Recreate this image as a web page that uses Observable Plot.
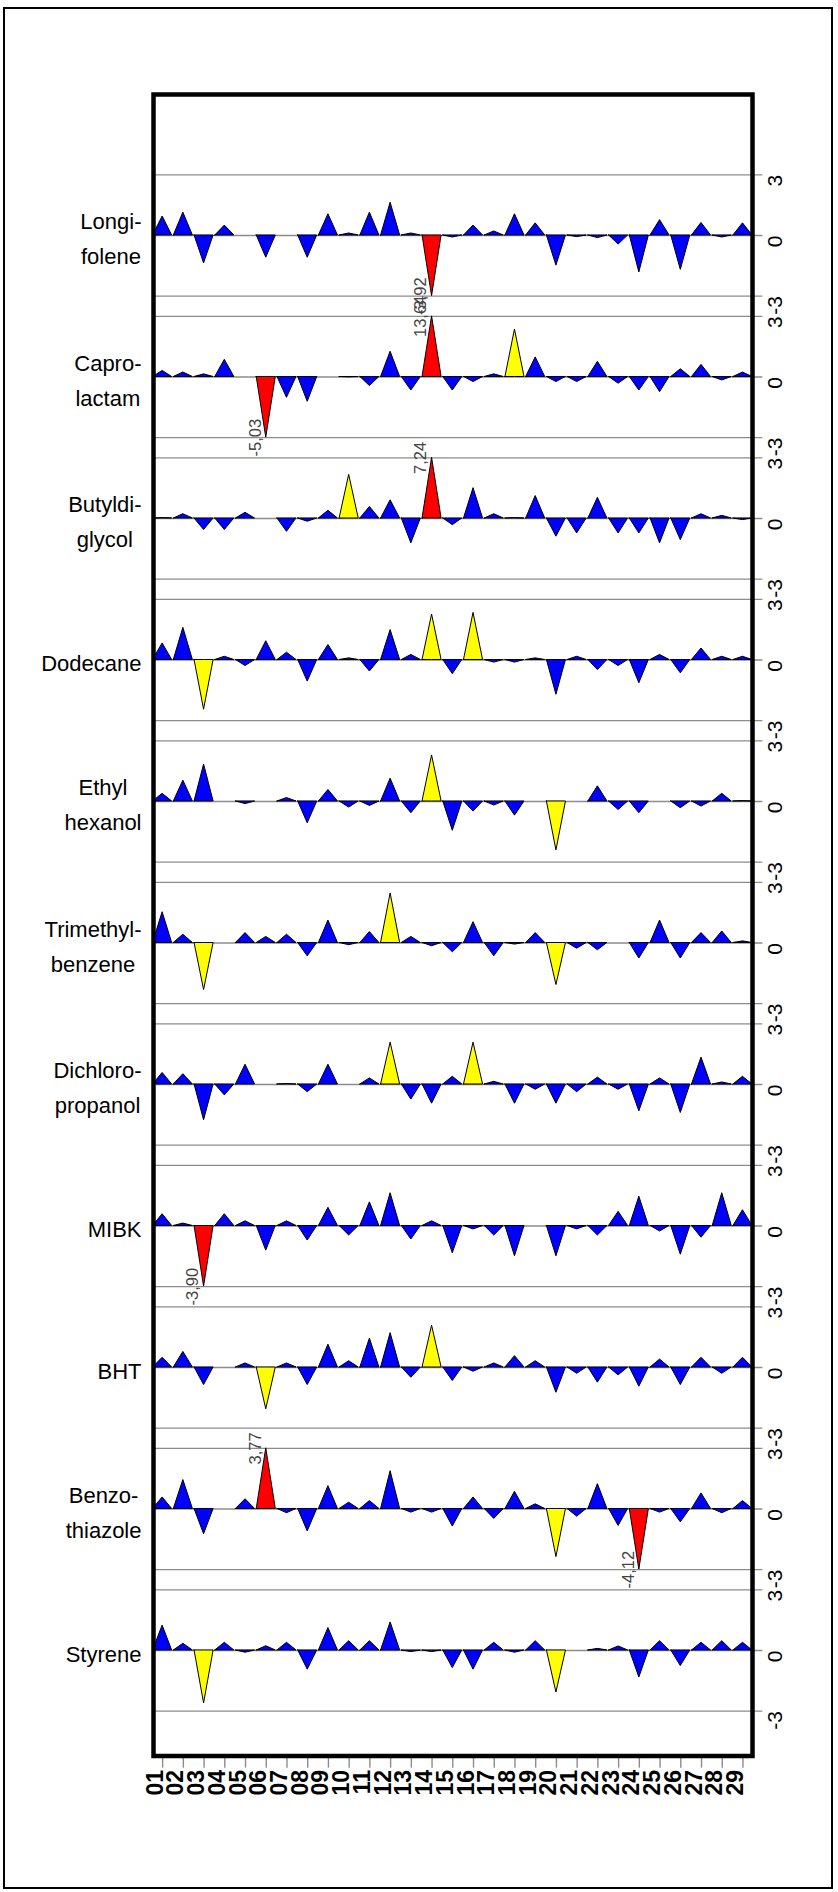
<!DOCTYPE html>
<html>
<head>
<meta charset="utf-8">
<script src="https://cdn.jsdelivr.net/npm/d3@7"></script>
<script src="https://cdn.jsdelivr.net/npm/@observablehq/plot@0.6"></script>
<style>
html, body { margin: 0; padding: 0; background: #fff; }
#wrap { position: relative; width: 838px; height: 1892px; overflow: hidden; }
#wrap svg { position: absolute; left: 0; top: 0; }
#border { position: absolute; left: 3px; top: 7px; width: 826px; height: 1878px; border: 2px solid #000; pointer-events: none; }
</style>
</head>
<body>
<div id="wrap"><div id="border"></div></div>
<script>
// ---- data ----
const positions = d3.range(1, 30);
const tickLabels = positions.map(d => String(d).padStart(2, "0"));
const compounds = ["Longi-\nfolene", "Capro-\nlactam", "Butyldi-\nglycol", "Dodecane", "Ethyl\nhexanol",
  "Trimethyl-\nbenzene", "Dichloro-\npropanol", "MIBK", "BHT", "Benzo-\nthiazole", "Styrene"];

const longifolene = [0.94, 1.13, -1.38, 0.49, 0, -1.10, 0, -1.10, 1.05, 0.10, 1.13, 1.62, 0.10, -3.92, -0.10, 0.49, 0.20, 1.05, 0.60, -1.49, -0.08, -0.13, -0.45, -1.83, 0.76, -1.70, 0.62, -0.10, 0.60];
const caprolactam = [0.30, 0.22, 0.13, 0.85, 0, -5.03, -1.03, -1.23, 0, -0.02, -0.45, 1.25, -0.67, 13.64, -0.67, -0.25, 0.13, 2.35, 0.97, -0.25, -0.25, 0.75, -0.33, -0.67, -0.75, 0.38, 0.60, -0.17, 0.22];
const butyldiglycol = [0.02, 0.21, -0.57, -0.57, 0.28, 0, -0.66, -0.16, 0.38, 2.16, 0.57, 0.90, -1.23, 7.24, -0.33, 1.50, 0.21, 0.02, 1.11, -0.90, -0.74, 1.02, -0.74, -0.74, -1.23, -1.07, 0.21, 0.13, -0.08];
const dodecane = [0.82, 1.59, -2.46, 0.16, -0.30, 0.93, 0.36, -1.07, 0.74, 0.08, -0.57, 1.48, 0.25, 2.25, -0.70, 2.33, -0.13, -0.13, 0.08, -1.72, 0.16, -0.50, -0.30, -1.15, 0.25, -0.66, 0.57, 0.16, 0.16];
const ethylhexanol = [0.38, 1.03, 1.83, 0, -0.13, 0, 0.17, -1.08, 0.57, -0.30, -0.22, 1.13, -0.58, 2.28, -1.45, -0.50, -0.20, -0.70, 0, -2.42, 0, 0.75, -0.42, -0.58, 0, -0.33, -0.25, 0.38, 0.02];
const trimethylbenzene = [1.52, 0.41, -2.33, 0, 0.49, 0.30, 0.41, -0.66, 1.11, -0.11, 0.54, 2.45, 0.30, -0.16, -0.46, 1.03, -0.66, -0.08, 0.49, -2.08, -0.28, -0.36, 0, -0.77, 1.11, -0.77, 0.49, 0.57, 0.08];
const dichloropropanol = [0.57, 0.51, -1.77, -0.54, 0.98, 0, 0.02, -0.38, 0.98, 0, 0.30, 2.07, -0.75, -0.95, 0.38, 2.07, 0.13, -0.95, -0.26, -0.95, -0.38, 0.34, -0.26, -1.33, 0.30, -1.41, 1.33, 0.10, 0.38];
const mibk = [0.58, 0.12, -3.90, 0.58, 0.23, -1.22, 0.23, -0.72, 0.90, -0.47, 1.17, 1.62, -0.67, 0.23, -1.35, -0.17, -0.47, -1.50, 0, -1.50, -0.17, -0.47, 0.70, 1.45, -0.27, -1.42, -0.58, 1.62, 0.78];
const bht = [0.48, 0.77, -0.87, 0, 0.20, -2.07, 0.20, -0.87, 1.13, 0.31, 1.43, 1.70, -0.51, 2.07, -0.67, -0.21, 0.20, 0.56, 0.31, -1.25, -0.31, -0.75, -0.39, -0.95, 0.39, -0.87, 0.48, -0.31, 0.48];
const benzothiazole = [0.57, 1.43, -1.25, 0, 0.48, 3.77, -0.21, -1.11, 1.13, 0.31, 0.39, 1.87, -0.18, -0.18, -0.87, 0.57, -0.49, 0.85, 0.23, -2.38, -0.38, 1.23, -0.84, -4.12, -0.18, -0.66, 0.77, -0.21, 0.39];
const styrene = [1.23, 0.33, -2.62, 0.38, -0.11, 0.21, 0.38, -0.95, 1.11, 0.46, 0.46, 1.39, -0.08, -0.08, -0.87, -0.95, 0.38, -0.11, 0.46, -2.08, 0, 0.08, 0.20, -1.34, 0.46, -0.77, 0.38, 0.46, 0.38];

const guideValues = [3, 0, -3];
const guideLabels = ["3", "0", "-3"];

// ---- layout constants ----
const series = [longifolene, caprolactam, butyldiglycol, dodecane, ethylhexanol, trimethylbenzene,
  dichloropropanol, mibk, bht, benzothiazole, styrene];
const panelStep = 7;
const halfWidth = 0.46;
const xDomain = [0.56, 29.46];
const yDomain = [-75.22, 6.975];
const W = 838, H = 1892, mL = 153, mR = 86, mT = 94, mB = 136.5;

const colorOf = v => Math.abs(v) >= 3 ? "#ff0000" : Math.abs(v) >= 2 ? "#ffff00" : "#0000ff";
const fmt = v => v.toFixed(2).replace(".", ",");

const tri = [], ann = [], guides = [];
series.forEach((vals, i) => {
  const off = -panelStep * i;
  guideValues.forEach((g, j) => guides.push({y: off + g, label: guideLabels[j]}));
  vals.forEach((v, k) => {
    const x = positions[k];
    if (v === 0) return;
    const vc = Math.max(-3, Math.min(3, v));
    const id = i + "-" + k, color = colorOf(v);
    tri.push({id, color, x: x - halfWidth, base: off, y: off});
    tri.push({id, color, x: x, base: off, y: off + vc});
    tri.push({id, color, x: x + halfWidth, base: off, y: off});
    if (Math.abs(v) >= 3) ann.push({x, y: off + vc, label: fmt(v)});
  });
});

// centre the lines of each compound label, right-align the block
const nameFont = 22;
const ctx = document.createElement("canvas").getContext("2d");
ctx.font = nameFont + "px 'Liberation Sans'";
const pxPerX = (W - mL - mR) / (xDomain[1] - xDomain[0]);
const labelRight = 141;
const nameData = compounds.map((c, i) => {
  const w = d3.max(c.split("\n"), s => ctx.measureText(s).width);
  const cx = labelRight - w / 2;
  return {text: c, y: -panelStep * i, x: xDomain[0] + (cx - mL) / pxPerX};
});

const chart = Plot.plot({
  width: W, height: H,
  marginLeft: mL, marginRight: mR, marginTop: mT, marginBottom: mB,
  x: {domain: xDomain, axis: null},
  y: {domain: yDomain, axis: null},
  color: {type: "identity"},
  style: {fontFamily: "'Liberation Sans', Arial, sans-serif", background: "white", overflow: "visible"},
  marks: [
    Plot.ruleY(guides, {y: "y", x1: () => xDomain[0], x2: () => xDomain[1] + 0.5, stroke: "#8c8c8c", strokeWidth: 1.4}),
    Plot.area(tri, {x1: "x", y1: "base", y2: "y", z: "id", fill: "color", stroke: "black", strokeWidth: 1, clip: true}),
    Plot.text(ann, {x: "x", y: "y", text: "label", rotate: -90, dx: -11, fontSize: 16.5, fill: "#444"}),
    Plot.text(guides, {y: "y", text: "label", frameAnchor: "right", dx: 23, rotate: -90, fontSize: 21, fill: "black"}),
    Plot.ruleX(positions, {x: d => d, y1: () => yDomain[0], y2: () => yDomain[0] - 0.6, stroke: "#8c8c8c", strokeWidth: 1.4}),
    Plot.text(tickLabels, {x: (d, i) => positions[i], frameAnchor: "bottom", dy: 14, rotate: -90, textAnchor: "end", fontSize: 23, fontWeight: "bold", fill: "black"}),
    Plot.text(nameData, {x: "x", y: "y", text: "text", textAnchor: "middle", lineHeight: 1.6, fontSize: nameFont, fill: "black"}),
    Plot.frame({stroke: "black", strokeWidth: 4.5})
  ]
});
document.getElementById("wrap").insertBefore(chart, document.getElementById("border"));
</script>
</body>
</html>
